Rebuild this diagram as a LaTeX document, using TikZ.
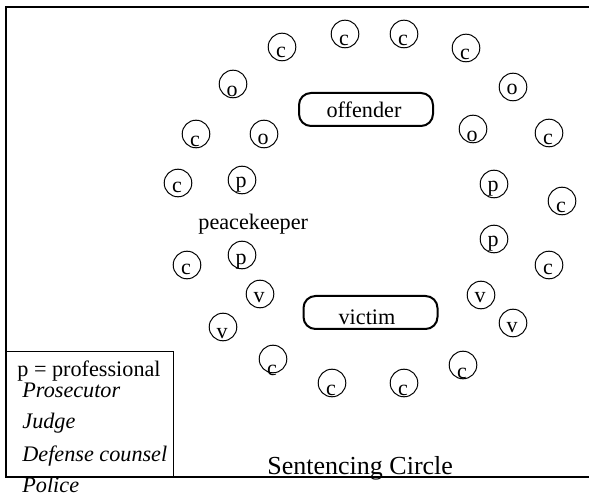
\documentclass[tikz,border=0pt]{standalone}
\usepackage{fontspec}
\setmainfont{Liberation Serif}
\usetikzlibrary{calc}
\begin{document}
\begin{tikzpicture}[x=0.5pt,y=-0.5pt,
  seat/.style={draw, circle, minimum size=13.8pt, inner sep=0pt, line width=0.5pt},
  seatlbl/.style={anchor=base, inner sep=0pt, font=\fontsize{11}{13}\selectfont},
  rolebox/.style={draw, rounded corners=6pt, line width=1pt, inner sep=0pt, minimum width=67pt, minimum height=16.5pt},
  txt/.style={anchor=base west, inner sep=0pt, font=\fontsize{11.1}{13}\selectfont},
  frame/.style={line width=0.6pt}]
\useasboundingbox (0,0) rectangle (589,502);
% frame
\coordinate (ftr) at (589,7);
\coordinate (ftl) at (6,7);
\coordinate (fbl) at (6,477);
\coordinate (fbr) at (589,477);
\draw[frame] (ftr) -- (ftl) -- (fbl) -- (fbr);
% seats
\foreach \n/\x/\y/\l/\d in {
  c1/282/47/c/11, c2/345/34/c/12, c3/404/34/c/12, c4/466/48/c/12,
  o1/233/84/o/13, o2/513/87/o/8,
  c5/196/134/c/13, o3/264/134/o/11, o4/473/129/o/13, c6/549/133/c/12,
  c7/178/183/c/10, p1/242/180/p/8, p2/494/184/p/8, c8/562/201/c/12,
  c9/187/265/c/10, p3/242/255/p/10, p4/494/239/p/8, c10/549/265/c/10,
  v1/260/294/v/8, v2/481/295/v/7, v3/223/327/v/11, v4/513/323/v/10,
  c11/273/359/c/16, c12/332/383/c/12, c13/404/383/c/12, c14/463/365/c/14}
{
  \node[seat] (\n) at (\x,\y) {};
  \node[seatlbl] (\n-l) at ($(\n)+(-1,\d)$) {\l};
}
% role boxes
\node[rolebox] (off) at (366,109.5) {};
\node[txt, anchor=base] (offt) at (364,118) {offender};
\node[rolebox] (vic) at (370.5,312.5) {};
\node[txt, anchor=base] (vict) at (367,325) {victim};
\node[txt] (peace) at (198,230) {peacekeeper};
% legend
\node[draw, line width=0.5pt, inner sep=0pt, minimum width=83.5pt, minimum height=63pt, anchor=north west] (leg) at (6,351) {};
\node[txt] (lp) at (17,376) {p = professional};
\node[txt] (l1) at (22,397) {\itshape Prosecutor};
\node[txt] (l2) at (22,428) {\itshape Judge};
\node[txt] (l3) at (22,461) {\itshape Defense counsel};
\node[txt] (l4) at (22,492) {\itshape Police};
\node[anchor=base west, inner sep=0pt, font=\fontsize{13}{15}\selectfont] (title) at (267,474) {Sentencing Circle};
\end{tikzpicture}
\end{document}
